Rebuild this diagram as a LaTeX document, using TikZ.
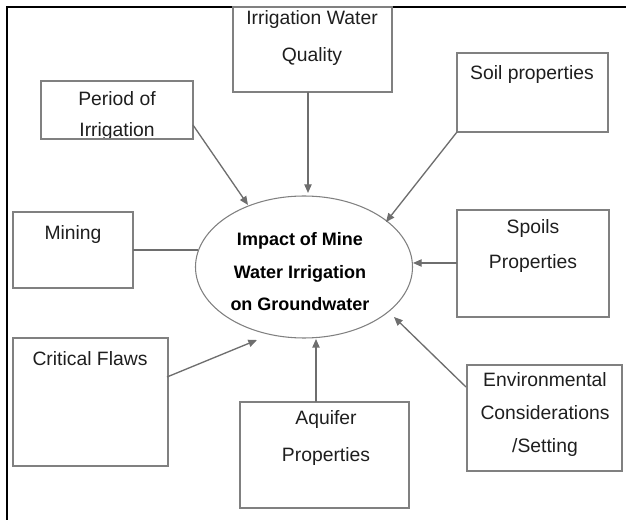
\documentclass[tikz,border=0pt]{standalone}
\usepackage{fontspec}
\setmainfont{Liberation Sans}
\usetikzlibrary{arrows.meta,shapes.geometric}
\definecolor{boxgray}{HTML}{808080}
\definecolor{linegray}{HTML}{6E6E6E}
\definecolor{txtc}{HTML}{1E1E1E}
\begin{document}
\begin{tikzpicture}[x=0.75pt,y=-0.75pt,
  boxst/.style={draw=boxgray, line width=1.1pt, inner sep=0pt},
  txt/.style={align=center, inner sep=0pt, text=txtc, font=\fontsize{14.5}{#1}\selectfont},
  txt/.default=25,
  btxt/.style={align=center, inner sep=0pt, text=black, font=\bfseries\fontsize{13.5}{24.4}\selectfont},
  arr/.style={draw=linegray, line width=1pt, -{Triangle[length=6.5pt,width=5.5pt]}},
  plain/.style={draw=linegray, line width=1.1pt},
  framest/.style={draw=black, line width=0.9pt}]
\useasboundingbox (0,0) rectangle (626,520);

% frame
\coordinate (fTR) at (626,7);
\coordinate (fTL) at (7,7);
\coordinate (fBL) at (7,520);
\draw[framest] (fTR) -- (fTL) -- (fBL);

% texts
\node[txt=27.75] (iwqT) at (312,38) {Irrigation Water\\Quality};
\node[txt=23.25] (perT) at (117,116) {Period of\\Irrigation};
\node[txt] (soilT) at (532,75) {Soil properties};
\node[txt] (minT) at (73,235) {Mining};
\node[txt=26.25] (spoT) at (533,246) {Spoils\\Properties};
\node[txt] (criT) at (90,359) {Critical Flaws};
\node[txt=27.75] (aquT) at (326,438) {Aquifer\\Properties};
\node[txt=24.75] (envT) at (545,415) {Environmental\\Considerations\\/Setting};

% boxes
\node[boxst, minimum width=119.25pt, minimum height=63.75pt] (iwq) at (312.5,49.5) {};
\node[boxst, minimum width=114pt, minimum height=43.5pt] (per) at (117,110) {};
\node[boxst, minimum width=113.25pt, minimum height=59.25pt] (soil) at (532.5,92.5) {};
\node[boxst, minimum width=90pt, minimum height=57pt] (min) at (73,250) {};
\node[boxst, minimum width=114pt, minimum height=80.25pt] (spo) at (533,263.5) {};
\node[boxst, minimum width=116.25pt, minimum height=96pt] (cri) at (90.5,402) {};
\node[boxst, minimum width=126.75pt, minimum height=79.5pt] (aqu) at (324.5,455) {};
\node[boxst, minimum width=116.25pt, minimum height=79.5pt] (env) at (544.5,418) {};

% centre ellipse
\node[ellipse, draw=boxgray, line width=0.8pt, inner sep=0pt,
      minimum width=162.75pt, minimum height=106.5pt] (ell) at (304,267) {};
\node[btxt] (ellT) at (300,272) {Impact of Mine\\Water Irrigation\\on Groundwater};

% connector end points
\coordinate (perS) at (193,125);   \coordinate (perE) at (248,205);
\coordinate (iwqS) at (308,92);    \coordinate (iwqE) at (308,193);
\coordinate (soilS) at (457,132);  \coordinate (soilE) at (386,222);
\coordinate (minS) at (133,250);   \coordinate (minE) at (198,250);
\coordinate (spoS) at (457,263);   \coordinate (spoE) at (413,263);
\coordinate (criS) at (167,377);   \coordinate (criE) at (257,340);
\coordinate (aquS) at (316,402);   \coordinate (aquE) at (316,339);
\coordinate (envS) at (466,387);   \coordinate (envE) at (394,317);

\draw[arr] (perS) -- (perE);
\draw[arr] (iwqS) -- (iwqE);
\draw[arr] (soilS) -- (soilE);
\draw[plain] (minS) -- (minE);
\draw[arr] (spoS) -- (spoE);
\draw[arr] (criS) -- (criE);
\draw[arr] (aquS) -- (aquE);
\draw[arr] (envS) -- (envE);
\end{tikzpicture}
\end{document}
